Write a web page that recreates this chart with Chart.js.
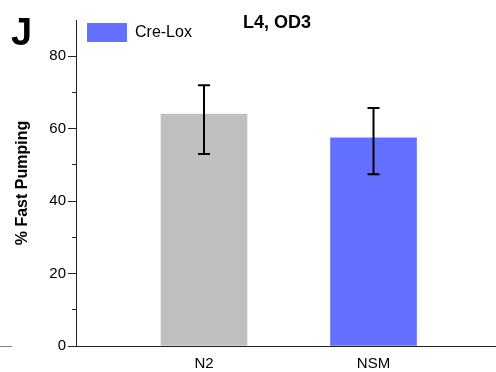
<!DOCTYPE html>
<html>
<head>
<meta charset="utf-8">
<script src="https://cdn.jsdelivr.net/npm/chart.js@4/dist/chart.umd.min.js"></script>
<style>
  html, body { margin: 0; padding: 0; background: #ffffff; }
  #wrap { width: 496px; height: 372px; }
</style>
</head>
<body>
<div id="wrap"><canvas id="c" width="496" height="372"></canvas></div>
<script>
const categories = ['N2', 'NSM'];
const positions = [1, 2];
const means = [64.0, 57.5];
const errLow = [53.0, 47.4];
const errHigh = [72.0, 65.7];
const barColors = ['#c0c0c0', '#6470ff'];
const legendLabel = 'Cre-Lox';
const yTickLabels = [0, 20, 40, 60, 80];
const yMinorTicks = [10, 30, 50, 70];
const chartTitle = 'L4, OD3';
const panelLetter = 'J';
const yTitle = '% Fast Pumping';

const FONT = '"Liberation Sans", Arial, Helvetica, sans-serif';

const errorBars = {
  id: 'errorBars',
  afterDatasetsDraw(chart) {
    const ctx = chart.ctx, xs = chart.scales.x, ys = chart.scales.y;
    ctx.save();
    ctx.strokeStyle = '#000';
    ctx.lineWidth = 2;
    positions.forEach((p, i) => {
      const x = xs.getPixelForValue(p);
      const yl = ys.getPixelForValue(errLow[i]);
      const yh = ys.getPixelForValue(errHigh[i]);
      ctx.beginPath();
      ctx.moveTo(x, yl); ctx.lineTo(x, yh);
      ctx.moveTo(x - 6, yl); ctx.lineTo(x + 6, yl);
      ctx.moveTo(x - 6, yh); ctx.lineTo(x + 6, yh);
      ctx.stroke();
    });
    ctx.restore();
  }
};

const texts = {
  id: 'texts',
  afterLayout(chart) {
    const ca = chart.chartArea;
    if (chart.legend) {
      chart.legend.left = ca.left;
      chart.legend.top = ca.top - 8;
    }
  },
  afterDraw(chart) {
    const ctx = chart.ctx, ca = chart.chartArea;
    ctx.save();
    ctx.fillStyle = '#000';
    ctx.textAlign = 'left';
    ctx.textBaseline = 'alphabetic';
    ctx.font = 'bold 38px ' + FONT;
    ctx.fillText(panelLetter, 11, 45);
    ctx.textAlign = 'center';
    ctx.font = 'bold 18px ' + FONT;
    ctx.fillText(chartTitle, 277, 28);
    // fragment of neighbouring panel's axis
    ctx.strokeStyle = '#808080';
    ctx.lineWidth = 1;
    ctx.beginPath();
    ctx.moveTo(0, ca.bottom + 0.5); ctx.lineTo(12, ca.bottom + 0.5);
    ctx.stroke();
    ctx.restore();
  }
};

new Chart(document.getElementById('c'), {
  type: 'bar',
  data: {
    datasets: [{
      label: legendLabel,
      data: positions.map((p, i) => ({ x: p, y: means[i] })),
      backgroundColor: barColors,
      borderWidth: 0,
      barThickness: 86
    }]
  },
  options: {
    responsive: false,
    animation: false,
    events: [],
    layout: { padding: { top: 20, left: 0, right: 0, bottom: 0 } },
    plugins: {
      title: { display: false },
      tooltip: { enabled: false },
      legend: {
        display: true,
        position: 'chartArea',
        align: 'start',
        labels: {
          boxWidth: 40,
          boxHeight: 19,
          padding: 11,
          color: '#000',
          font: { family: FONT, size: 16 },
          generateLabels: () => [{
            text: legendLabel,
            fillStyle: barColors[1],
            strokeStyle: barColors[1],
            lineWidth: 0,
            hidden: false,
            datasetIndex: 0
          }]
        }
      }
    },
    scales: {
      x: {
        type: 'linear',
        offset: false,
        min: 0.2448,
        max: 2.7227,
        afterFit(s) { s.height = 26; },
        afterBuildTicks(s) { s.ticks = positions.map(v => ({ value: v })); },
        grid: { display: false, drawTicks: false, offset: false },
        border: { display: true, color: '#222', width: 1 },
        ticks: {
          padding: 9,
          maxRotation: 0,
          autoSkip: false,
          color: '#000',
          font: { family: FONT, size: 15 },
          callback: (v) => categories[positions.indexOf(v)] || ''
        }
      },
      y: {
        type: 'linear',
        min: 0,
        max: 90,
        afterFit(s) { s.width = 76; },
        afterBuildTicks(s) {
          s.ticks = yTickLabels.concat(yMinorTicks).sort((a, b) => a - b).map(v => ({ value: v }));
        },
        grid: {
          display: true,
          drawOnChartArea: false,
          drawTicks: true,
          tickLength: 8,
          tickColor: '#222',
          tickWidth: 1,
          tickBorderDash: (c) => (c.tick && yMinorTicks.includes(c.tick.value)) ? [4, 4] : [],
          tickBorderDashOffset: (c) => (c.tick && yMinorTicks.includes(c.tick.value)) ? 4 : 0
        },
        border: { display: true, color: '#222', width: 1 },
        ticks: {
          padding: 2,
          color: '#000',
          font: { family: FONT, size: 15 },
          callback: (v) => yTickLabels.includes(v) ? String(v) : ''
        },
        title: {
          display: true,
          text: yTitle,
          color: '#000',
          font: { family: FONT, size: 16, weight: 'bold' },
          padding: { top: 13, bottom: 0 }
        }
      }
    }
  },
  plugins: [errorBars, texts]
});
</script>
</body>
</html>
